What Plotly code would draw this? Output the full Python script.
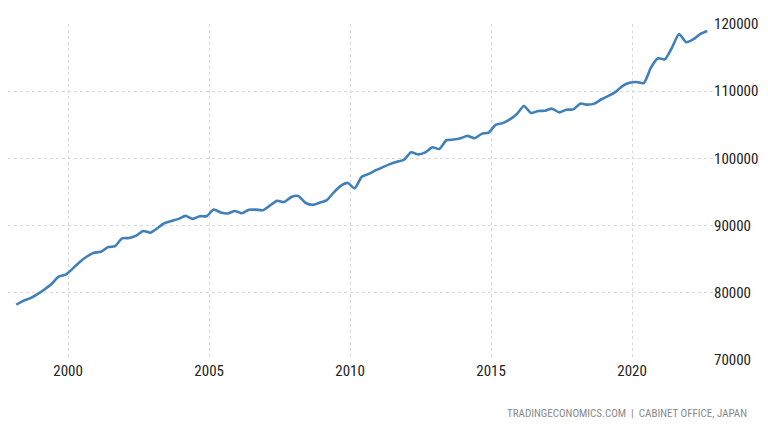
import plotly.graph_objects as go

# Quarterly series, 1998 Q1 .. 2022 Q3
start_year = 1998
n_quarters = 99
values = [
    78230, 78800, 79200, 79800,
    80500, 81300, 82400, 82700,
    83600, 84600, 85400, 85950,
    86100, 86800, 86950, 88100,
    88150, 88500, 89200, 88950,
    89600, 90350, 90700, 91000,
    91450, 91000, 91400, 91400,
    92400, 91950, 91800, 92170,
    91830, 92350, 92370, 92300,
    93000, 93700, 93500, 94250,
    94400, 93400, 93100, 93400,
    93750, 94900, 95900, 96350,
    95550, 97270, 97700, 98250,
    98700, 99150, 99500, 99800,
    100900, 100600, 100900, 101650,
    101400, 102700, 102800, 103000,
    103350, 103000, 103650, 103850,
    105000, 105250, 105800, 106600,
    107800, 106750, 107050, 107100,
    107400, 106850, 107250, 107300,
    108150, 108000, 108150, 108800,
    109300, 109900, 110800, 111250,
    111370, 111200, 113500, 114900,
    114750, 116500, 118500, 117300,
    117700, 118500, 118950,
]
dates = []
for k in range(n_quarters):
    y = start_year + k // 4
    m = 3 + 3 * (k % 4)
    dates.append(f"{y}-{m:02d}-01")

x_tick_vals = ["2000-01-01", "2005-01-01", "2010-01-01", "2015-01-01", "2020-01-01"]
x_tick_text = ["2000", "2005", "2010", "2015", "2020"]
y_tick_vals = [70000, 80000, 90000, 100000, 110000, 120000]
y_tick_text = ["70000", "80000", "90000", "100000", "110000", "120000"]

FONT = "Liberation Sans Narrow, Arial Narrow, Roboto Condensed, DejaVu Sans Condensed, sans-serif"

fig = go.Figure()
fig.add_trace(go.Scatter(
    x=dates, y=values, mode="lines",
    line=dict(color="#3f7fba", width=2.6, shape="spline", smoothing=0.6),
    hoverinfo="skip", showlegend=False,
))

fig.update_layout(
    width=768, height=432,
    margin=dict(l=8, r=55, t=24, b=72),
    paper_bgcolor="white", plot_bgcolor="white",
    font=dict(family=FONT, size=15, color="#333333"),
    xaxis=dict(
        type="date",
        range=["1997-11-14", "2022-11-14"],
        tickvals=x_tick_vals, ticktext=x_tick_text,
        showgrid=True, gridcolor="#d8d8d8", griddash="dot", gridwidth=1,
        zeroline=False, showline=False, ticks="",
        tickfont=dict(family=FONT, size=15, color="#222222"),
    ),
    yaxis=dict(
        side="right",
        range=[70000, 120000],
        tickvals=y_tick_vals, ticktext=y_tick_text,
        showgrid=True, gridcolor="#d8d8d8", griddash="dot", gridwidth=1,
        zeroline=False, showline=False, ticks="",
        tickfont=dict(family=FONT, size=15, color="#222222"),
    ),
    annotations=[dict(
        text="TRADINGECONOMICS.COM  |  CABINET OFFICE, JAPAN",
        xref="paper", yref="paper", x=1.051, y=-0.158,
        xanchor="right", yanchor="middle", showarrow=False,
        font=dict(family=FONT, size=11, color="#8a8a8a"),
    )],
)

fig.write_html("out.html")
